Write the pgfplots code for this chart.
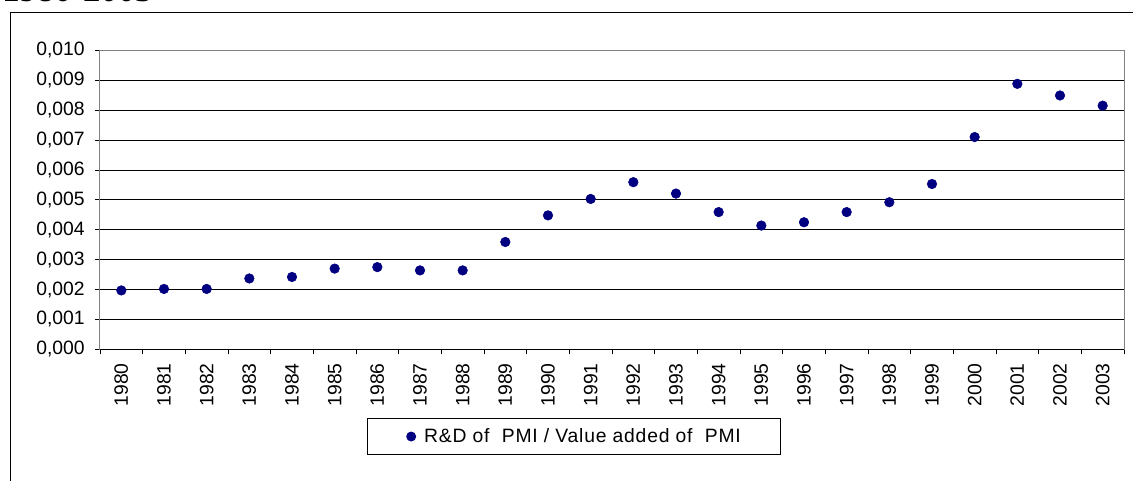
\documentclass[border=0pt]{standalone}
\usepackage{pgfplots}
\pgfplotsset{compat=1.18}
\usepackage{fontspec}
\setmainfont{Liberation Sans}
\newfontfamily\titlefont{Liberation Serif}
\newfontfamily\legendfont[LetterSpace=4]{Liberation Sans}
\definecolor{navy}{RGB}{0,0,128}
\begin{document}
\begin{tikzpicture}
\useasboundingbox (0,0) rectangle (849.75pt,360pt);
\clip (0,0) rectangle (849.75pt,360pt);
% title (mostly cut off at top)
\node[anchor=base west, inner sep=0pt, font=\titlefont\bfseries\fontsize{26}{30}\selectfont] at (1.5pt,359.2pt) {1980-2003};
% outer frame
\draw[black, line width=0.75pt] (7.5pt,-20pt) rectangle (870pt,350.8pt);
\begin{axis}[
  at={(75pt,98pt)}, anchor=south west,
  scale only axis, width=768pt, height=224.25pt,
  xmin=-0.5, xmax=23.5, ymin=0, ymax=0.01,
  xtick={0,...,23},
  xticklabels={1980,1981,1982,1983,1984,1985,1986,1987,1988,1989,1990,1991,1992,1993,1994,1995,1996,1997,1998,1999,2000,2001,2002,2003},
  minor xtick={-0.5,0.5,...,23.5},
  ytick={0,0.001,0.002,0.003,0.004,0.005,0.006,0.007,0.008,0.009,0.01},
  scaled y ticks=false,
  yticklabel style={/pgf/number format/.cd, fixed, fixed zerofill, precision=3, use comma, assume math mode=true},
  tick label style={font=\fontsize{14.5}{16}\selectfont, inner sep=0pt},
  xticklabel style={rotate=90, anchor=east},
  xticklabel shift=6.5pt,
  yticklabel shift=7.5pt,
  tick pos=left,
  tick align=outside,
  major tick length=3.75pt, minor tick length=3.75pt,
  major x tick style={draw=none},
  minor x tick style={black, line width=0.6pt},
  major y tick style={black, line width=0.6pt},
  ymajorgrids,
  major grid style={black, line width=0.6pt},
  axis line style={draw=gray, line width=0.75pt},
  legend style={at={(0.4624,-0.2916)}, anchor=center, draw=black, line width=0.5pt,
    font=\legendfont\fontsize{14.5}{16}\selectfont, inner xsep=29.5pt, inner ysep=7.5pt,
    nodes={inner sep=0pt}, column sep=0pt,
    legend cell align=left},
  legend image code/.code={\fill[navy, draw=none] (3.75pt,0pt) circle (3.75pt); \path[draw=none, fill=none] (0pt,-1pt) rectangle (13.5pt,1pt);},
]
\addplot[only marks, mark=*, mark size=3.6pt, color=navy, mark options={fill=navy, draw=navy}] coordinates {
(0,0.00197) (1,0.00202) (2,0.00202) (3,0.00237) (4,0.00242) (5,0.00270)
(6,0.00275) (7,0.00264) (8,0.00264) (9,0.00359) (10,0.00448) (11,0.00503)
(12,0.00559) (13,0.00521) (14,0.00459) (15,0.00414) (16,0.00425) (17,0.00459)
(18,0.00492) (19,0.00553) (20,0.00710) (21,0.00888) (22,0.00849) (23,0.00815)
};
\addlegendentry{R\&D of~ PMI / Value added of~ PMI}
\draw[black, line width=0.75pt] (rel axis cs:0,0) -- (rel axis cs:1,0);
\end{axis}
\end{tikzpicture}
\end{document}
